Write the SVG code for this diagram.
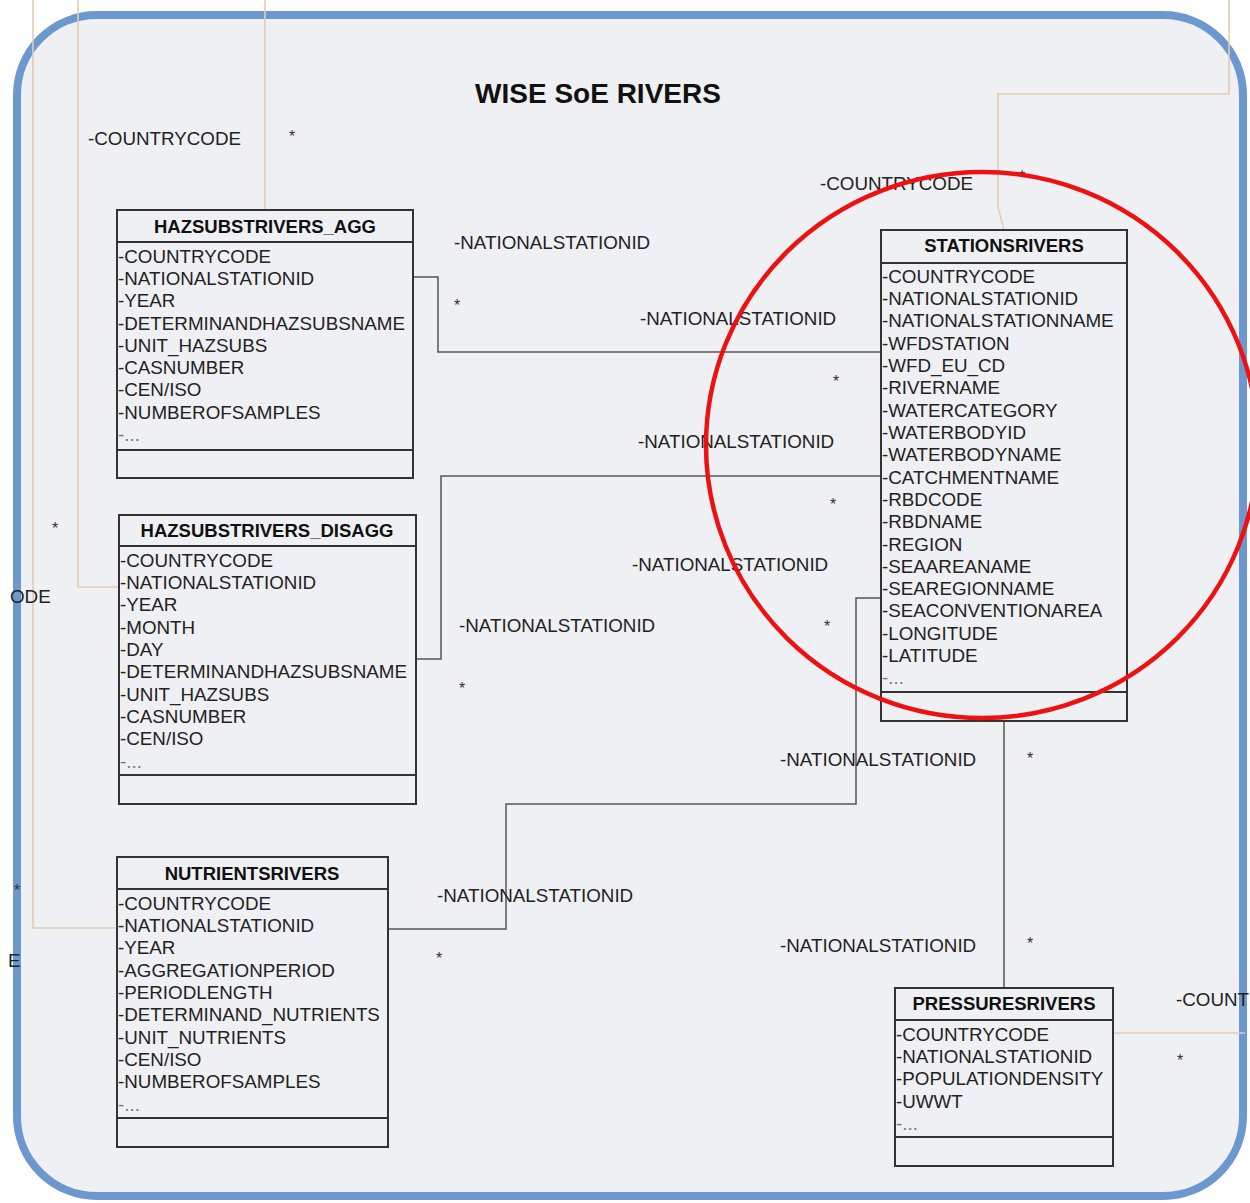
<svg xmlns="http://www.w3.org/2000/svg" width="1250" height="1203" viewBox="0 0 1250 1203">
<style>
.t{font-family:"Liberation Sans",Arial,sans-serif;font-size:18.8px;fill:#222}
.s{font-family:"Liberation Sans",Arial,sans-serif;font-size:16px;fill:#333}
.b{font-family:"Liberation Sans",Arial,sans-serif;font-size:18.5px;font-weight:bold;fill:#111}
.d{fill:#777}
.box{fill:#eff0f4;stroke:#333;stroke-width:2}
.sep{stroke:#333;stroke-width:2}
.tan{fill:none;stroke:#e2cdb3;stroke-width:1.6}
.dk{fill:none;stroke:#555;stroke-width:1.5}
</style>
<rect width="1250" height="1203" fill="#ffffff"/>
<rect x="17" y="15" width="1226" height="1181" rx="80" ry="80" fill="#eef0f3" stroke="#6d98cf" stroke-width="8"/>
<text x="598" y="103" text-anchor="middle" style="font-family:'Liberation Sans',Arial,sans-serif;font-size:28px;font-weight:bold;fill:#111">WISE SoE RIVERS</text>
<g id="connectors">
<polyline class="tan" points="33,0 33,928 117,928"/>
<polyline class="tan" points="78,0 78,587 119,587"/>
<polyline class="tan" points="265,0 265,210"/>
<polyline class="tan" points="1229,0 1229,94 998,94 998,207 1004,230"/>
<polyline class="tan" points="1113,1033 1245,1033"/>
<polyline class="dk" points="413,277 438,277 438,352 881,352"/>
<polyline class="dk" points="416,659 441,659 441,476 881,476"/>
<polyline class="dk" points="388,929 506,929 506,804 856,804 856,598 881,598"/>
<polyline class="dk" points="1004,721 1004,989"/>
<text class="t" x="88" y="145">-COUNTRYCODE</text>
<text class="s" x="289" y="142">*</text>
<text class="t" x="820" y="190">-COUNTRYCODE</text>
<text class="s" x="1019" y="182">*</text>
<text class="t" x="454" y="249">-NATIONALSTATIONID</text>
<text class="s" x="454" y="311">*</text>
<text class="t" x="640" y="325">-NATIONALSTATIONID</text>
<text class="s" x="833" y="387">*</text>
<text class="t" x="638" y="448">-NATIONALSTATIONID</text>
<text class="s" x="830" y="510">*</text>
<text class="t" x="632" y="571">-NATIONALSTATIONID</text>
<text class="s" x="824" y="632">*</text>
<text class="t" x="459" y="632">-NATIONALSTATIONID</text>
<text class="s" x="459" y="694">*</text>
<text class="t" x="780" y="766">-NATIONALSTATIONID</text>
<text class="s" x="1027" y="764">*</text>
<text class="t" x="437" y="902">-NATIONALSTATIONID</text>
<text class="s" x="436" y="964">*</text>
<text class="t" x="780" y="952">-NATIONALSTATIONID</text>
<text class="s" x="1027" y="949">*</text>
<text class="t" x="1176" y="1006">-COUNT</text>
<text class="s" x="1177" y="1066">*</text>
<text class="t" x="10" y="603">ODE</text>
<text class="s" x="52" y="534">*</text>
<text class="t" x="8" y="967">E</text>
<text class="s" x="14" y="896">*</text>
</g>
<g id="hazsubstrivers_agg">
<rect class="box" x="117" y="210" width="296" height="268"/>
<line class="sep" x1="117" y1="242" x2="413" y2="242"/>
<line class="sep" x1="117" y1="450" x2="413" y2="450"/>
<text class="b" x="265" y="233" text-anchor="middle">HAZSUBSTRIVERS_AGG</text>
<text class="t" x="118" y="263">-COUNTRYCODE</text>
<text class="t" x="118" y="285">-NATIONALSTATIONID</text>
<text class="t" x="118" y="307">-YEAR</text>
<text class="t" x="118" y="330">-DETERMINANDHAZSUBSNAME</text>
<text class="t" x="118" y="352">-UNIT_HAZSUBS</text>
<text class="t" x="118" y="374">-CASNUMBER</text>
<text class="t" x="118" y="396">-CEN/ISO</text>
<text class="t" x="118" y="419">-NUMBEROFSAMPLES</text>
<text class="t d" x="118" y="441">-...</text>
</g>
<g id="hazsubstrivers_disagg">
<rect class="box" x="119" y="515" width="297" height="289"/>
<line class="sep" x1="119" y1="546" x2="416" y2="546"/>
<line class="sep" x1="119" y1="775" x2="416" y2="775"/>
<text class="b" x="267" y="537" text-anchor="middle">HAZSUBSTRIVERS_DISAGG</text>
<text class="t" x="120" y="567">-COUNTRYCODE</text>
<text class="t" x="120" y="589">-NATIONALSTATIONID</text>
<text class="t" x="120" y="611">-YEAR</text>
<text class="t" x="120" y="634">-MONTH</text>
<text class="t" x="120" y="656">-DAY</text>
<text class="t" x="120" y="678">-DETERMINANDHAZSUBSNAME</text>
<text class="t" x="120" y="701">-UNIT_HAZSUBS</text>
<text class="t" x="120" y="723">-CASNUMBER</text>
<text class="t" x="120" y="745">-CEN/ISO</text>
<text class="t d" x="120" y="768">-...</text>
</g>
<g id="stationsrivers">
<rect class="box" x="881" y="230" width="246" height="491"/>
<line class="sep" x1="881" y1="263" x2="1127" y2="263"/>
<line class="sep" x1="881" y1="692" x2="1127" y2="692"/>
<text class="b" x="1004" y="252" text-anchor="middle">STATIONSRIVERS</text>
<text class="t" x="882" y="283">-COUNTRYCODE</text>
<text class="t" x="882" y="305">-NATIONALSTATIONID</text>
<text class="t" x="882" y="327">-NATIONALSTATIONNAME</text>
<text class="t" x="882" y="350">-WFDSTATION</text>
<text class="t" x="882" y="372">-WFD_EU_CD</text>
<text class="t" x="882" y="394">-RIVERNAME</text>
<text class="t" x="882" y="417">-WATERCATEGORY</text>
<text class="t" x="882" y="439">-WATERBODYID</text>
<text class="t" x="882" y="461">-WATERBODYNAME</text>
<text class="t" x="882" y="484">-CATCHMENTNAME</text>
<text class="t" x="882" y="506">-RBDCODE</text>
<text class="t" x="882" y="528">-RBDNAME</text>
<text class="t" x="882" y="551">-REGION</text>
<text class="t" x="882" y="573">-SEAAREANAME</text>
<text class="t" x="882" y="595">-SEAREGIONNAME</text>
<text class="t" x="882" y="617">-SEACONVENTIONAREA</text>
<text class="t" x="882" y="640">-LONGITUDE</text>
<text class="t" x="882" y="662">-LATITUDE</text>
<text class="t d" x="882" y="684">-...</text>
</g>
<g id="nutrientsrivers">
<rect class="box" x="117" y="857" width="271" height="290"/>
<line class="sep" x1="117" y1="889" x2="388" y2="889"/>
<line class="sep" x1="117" y1="1118" x2="388" y2="1118"/>
<text class="b" x="252" y="880" text-anchor="middle">NUTRIENTSRIVERS</text>
<text class="t" x="118" y="910">-COUNTRYCODE</text>
<text class="t" x="118" y="932">-NATIONALSTATIONID</text>
<text class="t" x="118" y="954">-YEAR</text>
<text class="t" x="118" y="977">-AGGREGATIONPERIOD</text>
<text class="t" x="118" y="999">-PERIODLENGTH</text>
<text class="t" x="118" y="1021">-DETERMINAND_NUTRIENTS</text>
<text class="t" x="118" y="1044">-UNIT_NUTRIENTS</text>
<text class="t" x="118" y="1066">-CEN/ISO</text>
<text class="t" x="118" y="1088">-NUMBEROFSAMPLES</text>
<text class="t d" x="118" y="1111">-...</text>
</g>
<g id="pressuresrivers">
<rect class="box" x="895" y="988" width="218" height="178"/>
<line class="sep" x1="895" y1="1020" x2="1113" y2="1020"/>
<line class="sep" x1="895" y1="1137" x2="1113" y2="1137"/>
<text class="b" x="1004" y="1010" text-anchor="middle">PRESSURESRIVERS</text>
<text class="t" x="896" y="1041">-COUNTRYCODE</text>
<text class="t" x="896" y="1063">-NATIONALSTATIONID</text>
<text class="t" x="896" y="1085">-POPULATIONDENSITY</text>
<text class="t" x="896" y="1108">-UWWT</text>
<text class="t d" x="896" y="1130">-...</text>
</g>
<ellipse cx="982" cy="445" rx="276" ry="273" fill="none" stroke="#ee1111" stroke-width="4.5"/>
</svg>
